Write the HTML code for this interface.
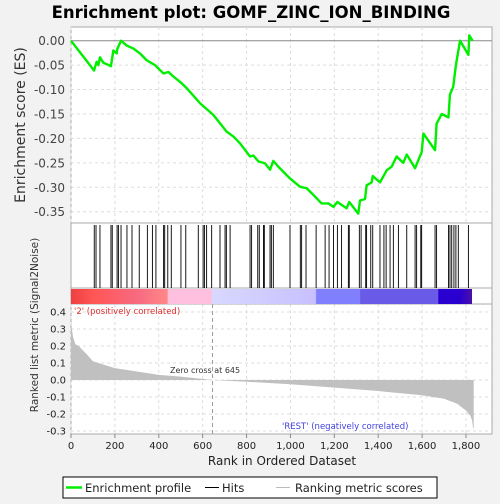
<!DOCTYPE html>
<html><head><meta charset="utf-8"><style>
body{margin:0;background:#f2f2f2;width:500px;height:500px;overflow:hidden;font-family:"DejaVu Sans","Liberation Sans",sans-serif}
</style></head><body>
<svg id="chart" width="500" height="500" xmlns="http://www.w3.org/2000/svg" font-family="DejaVu Sans, Liberation Sans, sans-serif">
<text x="251" y="18" text-anchor="middle" font-size="16.5" font-weight="bold" fill="#000">Enrichment plot: GOMF_ZINC_ION_BINDING</text>
<rect x="71" y="27" width="421" height="407" fill="#fff" stroke="#aaa"/>
<g id="grid"></g>
<line x1="71" y1="223" x2="492" y2="223" stroke="#aaa"/>
<line x1="71" y1="288" x2="492" y2="288" stroke="#aaa"/>
<line x1="71" y1="304" x2="492" y2="304" stroke="#aaa"/>
<defs><linearGradient id="cb" x1="0" x2="1">
<stop offset="0" stop-color="#ee4040"/><stop offset="0.055" stop-color="#ff5555"/><stop offset="0.165" stop-color="#f86a80"/><stop offset="0.24" stop-color="#ff8888"/><stop offset="0.242" stop-color="#ffc0e0"/><stop offset="0.35" stop-color="#ffc0e0"/><stop offset="0.352" stop-color="#d8d8ff"/><stop offset="0.61" stop-color="#c8c0ff"/><stop offset="0.612" stop-color="#8080ff"/><stop offset="0.72" stop-color="#8080ff"/><stop offset="0.722" stop-color="#6a5ae8"/><stop offset="0.915" stop-color="#6a5ae8"/><stop offset="0.917" stop-color="#2a00d0"/><stop offset="0.97" stop-color="#2a00d0"/><stop offset="1" stop-color="#4a10a8"/>
</linearGradient></defs>
<rect x="71" y="289" width="401" height="15" fill="url(#cb)"/>
<g id="hits"></g>
<g id="metric"></g>
<g id="es"></g>
<g id="axes"></g>
<text x="74" y="314" font-size="8.5" fill="#e03030">'2' (positively correlated)</text>
<text x="282" y="429" font-size="8.5" fill="#4040e0">'REST' (negatively correlated)</text>
<text x="170" y="373" font-size="8" fill="#333">Zero cross at 645</text>
<text x="282" y="465" text-anchor="middle" font-size="12" fill="#222">Rank in Ordered Dataset</text>
<text transform="translate(25,125) rotate(-90)" text-anchor="middle" font-size="14" fill="#333">Enrichment score (ES)</text>
<text transform="translate(38,325) rotate(-90)" text-anchor="middle" font-size="10.5" fill="#333">Ranked list metric (Signal2Noise)</text>
<g>
<rect x="63" y="477" width="374" height="21" fill="#fff" stroke="#000"/>
<line x1="66" y1="487.5" x2="82" y2="487.5" stroke="#00ee00" stroke-width="2.5"/>
<text x="85" y="492" font-size="11.5" fill="#222">Enrichment profile</text>
<line x1="205" y1="487.5" x2="219" y2="487.5" stroke="#000"/>
<text x="222" y="492" font-size="11.5" fill="#222">Hits</text>
<line x1="276" y1="487.5" x2="290" y2="487.5" stroke="#bbb"/>
<text x="295" y="492" font-size="11.5" fill="#222">Ranking metric scores</text>
</g>
</svg>
<script>
const hitRanks=[106,114,132,182,188,210,216,228,255,278,311,348,371,387,422,427,441,457,501,523,580,602,608,618,641,679,702,708,725,816,823,851,858,877,881,907,913,922,998,1045,1051,1071,1117,1158,1176,1196,1214,1233,1264,1268,1314,1322,1343,1347,1366,1375,1408,1426,1436,1454,1469,1492,1530,1568,1575,1594,1598,1659,1666,1720,1727,1735,1745,1754,1765,1811];
const esRanks=[0,105,117,125,132,147,182,193,208,211,228,254,284,314,345,383,421,444,466,504,527,588,649,709,740,770,816,831,854,884,907,922,945,998,1044,1074,1112,1142,1173,1196,1214,1233,1256,1268,1309,1317,1340,1347,1370,1375,1408,1439,1461,1484,1514,1530,1568,1598,1606,1659,1666,1689,1720,1727,1742,1754,1773,1811,1815,1830];
const esValues=[0,-0.061,-0.043,-0.050,-0.034,-0.045,-0.052,-0.020,-0.026,-0.017,0.0,-0.010,-0.016,-0.026,-0.040,-0.050,-0.067,-0.064,-0.073,-0.087,-0.097,-0.128,-0.152,-0.186,-0.196,-0.210,-0.237,-0.235,-0.247,-0.251,-0.264,-0.246,-0.258,-0.282,-0.299,-0.302,-0.319,-0.333,-0.333,-0.340,-0.330,-0.336,-0.343,-0.330,-0.354,-0.327,-0.324,-0.296,-0.290,-0.277,-0.290,-0.265,-0.258,-0.237,-0.250,-0.233,-0.261,-0.228,-0.190,-0.224,-0.170,-0.150,-0.157,-0.110,-0.094,-0.050,0.0,-0.029,0.011,0.0];
const metricRanks=[0,5,10,20,35,50,80,100,150,200,300,400,500,645,800,1000,1200,1400,1600,1700,1760,1800,1820,1828,1832,1835];
const metricValues=[0.35,0.29,0.25,0.21,0.20,0.18,0.14,0.11,0.09,0.07,0.05,0.03,0.02,0,-0.01,-0.025,-0.045,-0.065,-0.09,-0.11,-0.14,-0.18,-0.21,-0.24,-0.28,-0.29];
const xTicks=[0,200,400,600,800,1000,1200,1400,1600,1800];
const xTickLabels=["0","200","400","600","800","1,000","1,200","1,400","1,600","1,800"];
const esTicks=[0,-0.05,-0.10,-0.15,-0.20,-0.25,-0.30,-0.35];
const esTickLabels=["0.00","-0.05","-0.10","-0.15","-0.20","-0.25","-0.30","-0.35"];
const mTicks=[0.4,0.3,0.2,0.1,0,-0.1,-0.2,-0.3];
const mTickLabels=["0.4","0.3","0.2","0.1","0.0","-0.1","-0.2","-0.3"];
const zeroCross=645;

const NS="http://www.w3.org/2000/svg";
const X=r=>71+r*0.21944;
const YE=v=>40.7-v*488.6;
const YM=v=>380-v*170;
function mk(tag,attrs,parent){const e=document.createElementNS(NS,tag);for(const k in attrs)e.setAttribute(k,attrs[k]);document.getElementById(parent).appendChild(e);return e;}

xTicks.forEach((t,i)=>{
  let g=mk('line',{x1:X(t),x2:X(t),y1:27,y2:223,stroke:'#ddd','stroke-dasharray':'3,3'},'grid');
  
  
  let g2=mk('line',{x1:X(t),x2:X(t),y1:304,y2:434,stroke:'#ddd','stroke-dasharray':'3,3'},'grid');
  
  
  let tk=mk('line',{x1:X(t),x2:X(t),y1:434,y2:438,stroke:'#888'},'axes');
  
  
  let tx=mk('text',{x:X(t),y:449,'text-anchor':'middle','font-size':'10',fill:'#222'},'axes');
  tx.textContent=xTickLabels[i];
  
  
});
esTicks.forEach((t,i)=>{
  let g=mk('line',{x1:71,x2:492,y1:YE(t),y2:YE(t),stroke:t===0?'#888':'#ddd','stroke-dasharray':t===0?'':'3,3'},'grid');
  
  
  let tx=mk('text',{x:65,y:YE(t)+4.5,'text-anchor':'end','font-size':'12',fill:'#444'},'axes');
  tx.textContent=esTickLabels[i];
  
  
});
mTicks.forEach((t,i)=>{
  let g=mk('line',{x1:71,x2:492,y1:YM(t),y2:YM(t),stroke:'#ddd','stroke-dasharray':'3,3'},'grid');
  
  
  let tx=mk('text',{x:66,y:YM(t)+3.5,'text-anchor':'end','font-size':'10',fill:'#222'},'axes');
  tx.textContent=mTickLabels[i];
  
  
});
let zc=mk('line',{x1:X(zeroCross),x2:X(zeroCross),y1:304,y2:434,stroke:'#999','stroke-dasharray':'4,3'},'grid');



hitRanks.forEach(r=>{
  let h=mk('line',{x1:X(r),x2:X(r),y1:225,y2:288,stroke:'#000','stroke-width':'0.9'},'hits');
  
  
});

let d='M'+X(0)+','+YM(0);
metricRanks.forEach((r,i)=>{d+=' L'+X(r)+','+YM(metricValues[i]);});
d+=' L'+X(metricRanks[metricRanks.length-1])+','+YM(0)+' Z';
let ma=mk('path',{d:d,fill:'#c0c0c0',stroke:'none'},'metric');



let pts=esRanks.map((r,i)=>X(r)+','+YE(esValues[i])).join(' ');
let es=mk('polyline',{points:pts,fill:'none',stroke:'#00ee00','stroke-width':'2.4','stroke-linejoin':'round'},'es');


</script>
</body></html>
